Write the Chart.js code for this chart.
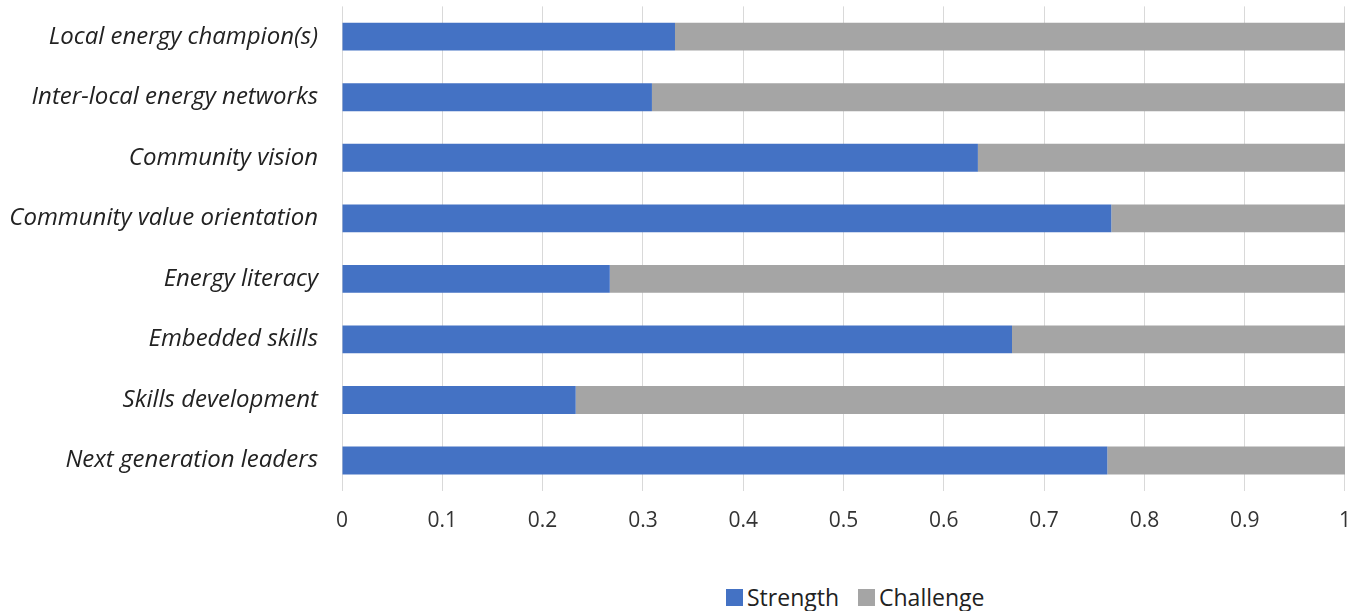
<!DOCTYPE html>
<html>
<head>
<meta charset="utf-8">
<script src="https://cdn.jsdelivr.net/npm/chart.js@4"></script>
<style>
  html, body { margin: 0; padding: 0; background: #fff; overflow: hidden; }
  #wrap { position: relative; width: 1369px; height: 611px; overflow: hidden; }
  #chart-box { position: absolute; left: 0; top: -32px; width: 1369px; height: 584px; }
  #legend {
    position: absolute; top: 581px; left: 726px;
    display: flex; align-items: center; height: 32px;
    font-family: "Open Sans", sans-serif; font-size: 23px; color: #222;
  }
  .item { display: flex; align-items: center; margin-right: 19px; }
  .swatch { width: 17px; height: 17px; margin-right: 4px; }
</style>
</head>
<body>
<div id="wrap">
  <div id="chart-box"><canvas id="barChart"></canvas></div>
  <div id="legend"></div>
</div>
<script>
const categories = [
    "Local energy champion(s)",
    "Inter-local energy networks",
    "Community vision",
    "Community value orientation",
    "Energy literacy",
    "Embedded skills",
    "Skills development",
    "Next generation leaders"
];
const strength = [0.332, 0.309, 0.634, 0.767, 0.267, 0.668, 0.233, 0.763];
const challenge = [0.668, 0.691, 0.366, 0.233, 0.733, 0.332, 0.767, 0.237];
const xTicks = [0, 0.1, 0.2, 0.3, 0.4, 0.5, 0.6, 0.7, 0.8, 0.9, 1];

const seriesColors = { Strength: '#4472C4', Challenge: '#A5A5A5' };

const ctx = document.getElementById('barChart').getContext('2d');
const chart = new Chart(ctx, {
    type: 'bar',
    data: {
        labels: categories,
        datasets: [
            {
                label: 'Strength',
                data: strength,
                backgroundColor: seriesColors.Strength,
                barPercentage: 0.46,
                categoryPercentage: 1
            },
            {
                label: 'Challenge',
                data: challenge,
                backgroundColor: seriesColors.Challenge,
                barPercentage: 0.46,
                categoryPercentage: 1
            }
        ]
    },
    options: {
        indexAxis: 'y',
        responsive: true,
        maintainAspectRatio: false,
        animation: false,
        layout: { padding: { top: 6, right: 22, left: 0, bottom: 0 } },
        plugins: {
            legend: { display: false },
            tooltip: { enabled: false }
        },
        scales: {
            x: {
                stacked: true,
                min: 0,
                max: 1,
                afterBuildTicks: (axis) => { axis.ticks = xTicks.map(v => ({ value: v })); },
                grid: { color: '#d9d9d9', drawTicks: false },
                border: { display: false },
                ticks: {
                    color: '#333',
                    padding: 18,
                    font: { family: 'Open Sans', size: 21 },
                    callback: (value) => String(value)
                }
            },
            y: {
                stacked: true,
                afterFit: (axis) => { axis.width = 342; }, // fixed label column
                grid: { display: false, drawTicks: false },
                border: { display: false },
                ticks: {
                    color: '#222',
                    padding: 24,
                    font: { family: 'Open Sans', size: 24, style: 'italic' }
                }
            }
        }
    }
});

// HTML legend
const legend = document.getElementById('legend');
chart.data.datasets.forEach(ds => {
    const item = document.createElement('div');
    item.className = 'item';
    item.innerHTML = `<span class="swatch" style="background:${ds.backgroundColor}"></span>${ds.label}`;
    legend.appendChild(item);
});
</script>
</body>
</html>
